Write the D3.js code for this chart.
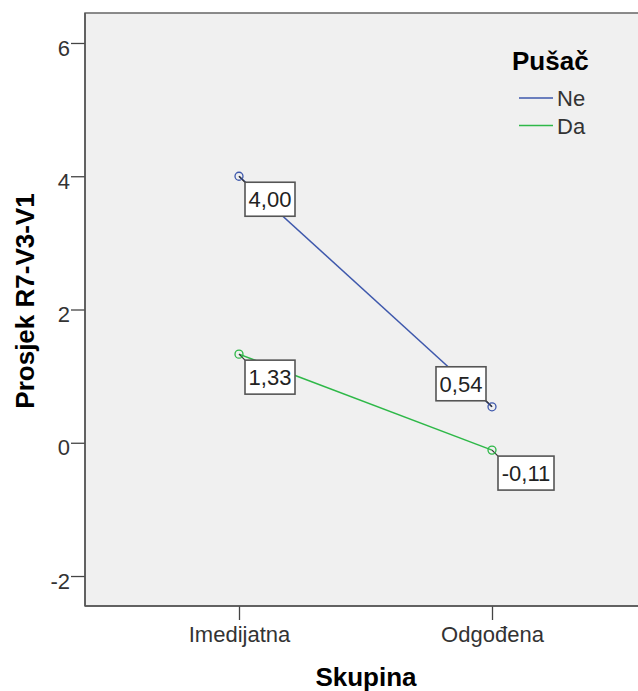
<!DOCTYPE html>
<html><head><meta charset="utf-8">
<script src="https://cdn.jsdelivr.net/npm/d3@7"></script>
<style>
html,body{margin:0;padding:0;background:#fff;}
svg{display:block;font-family:"Liberation Sans",Arial,sans-serif;}
</style></head>
<body><svg id="c" width="638" height="691"></svg>
<script>
const categories = ["Imedijatna", "Odgođena"];
const seriesNames = ["Ne", "Da"];
const seriesNe = [4.00, 0.54];
const seriesDa = [1.33, -0.11];
const yTicks = [-2, 0, 2, 4, 6];
const yTitle = "Prosjek R7-V3-V1";
const xTitle = "Skupina";
const legendTitle = "Pušač";

const colors = {Ne: "#3e58ac", Da: "#2eb848"};
const series = [
  {name: seriesNames[0], values: seriesNe},
  {name: seriesNames[1], values: seriesDa}
];

const svg = d3.select("#c");
const m = {left: 85, top: 13, right: 646, bottom: 606};

const x = d3.scalePoint().domain(categories).range([m.left, m.right]).padding(0.6087);
const y = d3.scaleLinear().domain([-2.45, 6.45]).range([m.bottom, m.top]);

// plot background
svg.append("rect").attr("x", m.left).attr("y", m.top)
  .attr("width", m.right - m.left).attr("height", m.bottom - m.top)
  .attr("fill", "#f0f0f0").attr("stroke", "#666").attr("stroke-width", 1.5);

// y axis
const yAxis = d3.axisLeft(y).tickValues(yTicks).tickSize(14).tickPadding(1)
  .tickFormat(d => String(d));
const gy = svg.append("g").attr("transform", `translate(${m.left},0)`).call(yAxis);
gy.select(".domain").remove();
gy.selectAll(".tick line").attr("stroke", "#444").attr("stroke-width", 1.3);
gy.selectAll(".tick text").attr("font-size", 22).attr("fill", "#333")
  .attr("font-family", "Liberation Sans, Arial, sans-serif").attr("dy", "0.55em");

// x axis
const xAxis = d3.axisBottom(x).tickSize(14).tickPadding(6);
const gx = svg.append("g").attr("transform", `translate(0,${m.bottom})`).call(xAxis);
gx.select(".domain").remove();
gx.selectAll(".tick line").attr("stroke", "#444").attr("stroke-width", 1.3);
gx.selectAll(".tick text").attr("font-size", 22).attr("fill", "#333")
  .attr("font-family", "Liberation Sans, Arial, sans-serif");

// frame lines on top
svg.append("line").attr("x1", m.left).attr("x2", m.left).attr("y1", m.top).attr("y2", m.bottom)
  .attr("stroke", "#555").attr("stroke-width", 1.5);
svg.append("line").attr("x1", m.left).attr("x2", m.right).attr("y1", m.bottom).attr("y2", m.bottom)
  .attr("stroke", "#555").attr("stroke-width", 1.5);

// axis titles
svg.append("text").attr("x", 366).attr("y", 686).attr("text-anchor", "middle")
  .attr("font-size", 26).attr("font-weight", "bold").attr("fill", "#000").text(xTitle);
svg.append("text").attr("transform", "translate(34,301) rotate(-90)").attr("text-anchor", "middle")
  .attr("font-size", 26).attr("font-weight", "bold").attr("fill", "#000").text(yTitle);

// lines
const line = d3.line().x((d, i) => x(categories[i])).y(d => y(d));
series.forEach(s => {
  svg.append("path").attr("d", line(s.values)).attr("fill", "none")
    .attr("stroke", colors[s.name]).attr("stroke-width", 1.5);
});

// labels
const fmt = v => d3.format(".2f")(v).replace(".", ",").replace("−", "-");
const boxH = 34, gap = 6;
series.forEach((s, si) => {
  s.values.forEach((v, i) => {
    const px = x(categories[i]), py = y(v);
    const t = fmt(v);
    const g = svg.append("g");
    const leader = g.append("line");
    const rect = g.append("rect");
    const txt = g.append("text").attr("text-anchor", "middle").attr("font-size", 22)
      .attr("fill", "#222").text(t);
    const bw = Math.round(txt.node().getComputedTextLength() + 7);
    const upLeft = (si === 0 && i === 1);
    const bx = upLeft ? px - gap - bw : px + gap;
    const by = upLeft ? py - gap - boxH : py + gap;
    leader.attr("x1", px).attr("y1", py)
      .attr("x2", upLeft ? bx + bw : bx).attr("y2", upLeft ? by + boxH : by)
      .attr("stroke", "#333").attr("stroke-width", 1.2);
    rect.attr("x", bx).attr("y", by).attr("width", bw).attr("height", boxH)
      .attr("fill", "#fff").attr("stroke", "#555").attr("stroke-width", 1.6);
    txt.attr("x", bx + bw / 2).attr("y", by + boxH / 2 + 8);
  });
});

// markers
series.forEach(s => {
  s.values.forEach((v, i) => {
    svg.append("circle").attr("cx", x(categories[i])).attr("cy", y(v)).attr("r", 4)
      .attr("fill", "none").attr("stroke", colors[s.name]).attr("stroke-width", 1.3);
  });
});

// legend
const lg = svg.append("g");
lg.append("text").attr("x", 512).attr("y", 70).attr("font-size", 26).attr("font-weight", "bold")
  .attr("fill", "#000").text(legendTitle);
series.forEach((s, i) => {
  const ly = 98 + i * 27.5;
  lg.append("line").attr("x1", 519).attr("x2", 553).attr("y1", ly).attr("y2", ly)
    .attr("stroke", colors[s.name]).attr("stroke-width", 1.5);
  lg.append("text").attr("x", 557).attr("y", ly + 8).attr("font-size", 22).attr("fill", "#333").text(s.name);
});
</script></body></html>
